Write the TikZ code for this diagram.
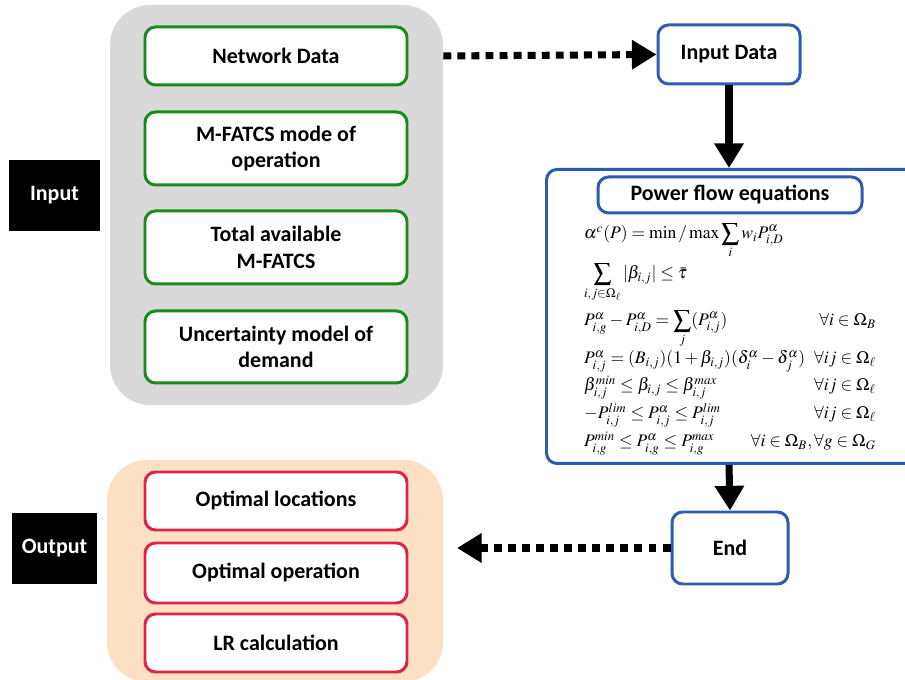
\documentclass[tikz,border=0pt]{standalone}
\usepackage{mathptmx}
\usepackage[no-math]{fontspec}
\setmainfont{Carlito}
\usepackage{amsmath}
\usetikzlibrary{arrows.meta}
\definecolor{boxgreen}{RGB}{24,140,24}
\definecolor{boxblue}{RGB}{44,92,178}
\definecolor{boxred}{RGB}{224,34,74}
\definecolor{boxgray}{RGB}{217,217,217}
\definecolor{boxpeach}{RGB}{252,224,196}
\begin{document}
\begin{tikzpicture}[>={Triangle[length=14pt,width=16pt]},
	txt/.style={font=\bfseries\fontsize{12.5}{15}\selectfont, align=center},
	grnbox/.style={txt, draw=boxgreen, line width=1.7pt, rounded corners=6pt, fill=white, minimum width=5.24cm},
	redbox/.style={txt, draw=boxred, line width=1.7pt, rounded corners=6pt, fill=white, minimum width=5.24cm},
	bluebox/.style={txt, draw=boxblue, line width=1.7pt, rounded corners=6pt, fill=white},
	tagbox/.style={txt, fill=black, text=white},
	flow/.style={->, line width=4pt},
	dotflow/.style={->, line width=4pt, dash pattern=on 4.5pt off 3.5pt},
	eq/.style={anchor=base west, font=\normalsize, inner sep=1pt},
	cond/.style={anchor=base east, font=\normalsize, inner sep=1pt}]
	\useasboundingbox (0,0) rectangle (18.1,13.6);
	\clip (0,0) rectangle (18.1,13.6);
	\node[fill=boxgray, rounded corners=0.8cm, minimum width=6.66cm, minimum height=8cm] (grey) at (5.53,9.5) {};
	\node[fill=boxpeach, rounded corners=0.8cm, minimum width=6.72cm, minimum height=4.44cm] (peach) at (5.5,2.18) {};
	\node[tagbox, minimum width=1.82cm, minimum height=1.42cm] (input) at (1.09,9.69) {Input};
	\node[tagbox, minimum width=1.7cm, minimum height=1.42cm] (output) at (1.09,2.63) {Output};
	\node[grnbox, minimum height=1.16cm] (ndata) at (5.52,12.48) {Network Data};
	\node[grnbox, minimum height=1.46cm] (mode) at (5.52,10.63) {M-FATCS mode of\\operation};
	\node[grnbox, minimum height=1.46cm] (total) at (5.52,8.65) {Total available\\M-FATCS};
	\node[grnbox, minimum height=1.44cm] (uncert) at (5.52,6.66) {Uncertainty model of\\demand};
	\node[redbox, minimum height=1.16cm] (locs) at (5.52,3.58) {Optimal locations};
	\node[redbox, minimum height=1.2cm] (oper) at (5.52,2.14) {Optimal operation};
	\node[redbox, minimum height=1.16cm] (lr) at (5.52,0.74) {LR calculation};
	\node[bluebox, minimum width=2.84cm, minimum height=1.18cm] (indata) at (14.58,12.51) {Input Data};
	\node[bluebox, minimum width=8cm, minimum height=5.88cm, anchor=north west] (pfbox) at (10.9,10.24) {};
	\node[bluebox, minimum width=5.28cm, minimum height=0.72cm] (pftitle) at (14.6,9.7) {Power flow equations};
	\node[bluebox, minimum width=2.32cm, minimum height=1.44cm] (endn) at (14.6,2.64) {End};
	\node[eq] (eq1) at (11.64,8.82) {$\alpha^c(P) = \mathrm{min}\,/\,\mathrm{max} \displaystyle\sum_i w_i P^{\alpha}_{i,D}$};
	\node[eq] (eq2) at (11.64,8.02) {$\displaystyle\sum_{i,j\in\Omega_\ell} |\beta_{i,j}| \le \bar{\tau}$};
	\node[eq] (eq3) at (11.64,7.08) {$P^{\alpha}_{i,g} - P^{\alpha}_{i,D} = \displaystyle\sum_j (P^{\alpha}_{i,j})$};
	\node[eq] (eq4) at (11.64,6.32) {$P^{\alpha}_{i,j} = (B_{i,j})(1+\beta_{i,j})(\delta^{\alpha}_i - \delta^{\alpha}_j)$};
	\node[eq] (eq5) at (11.64,5.78) {$\beta^{min}_{i,j} \le \beta_{i,j} \le \beta^{max}_{i,j}$};
	\node[eq] (eq6) at (11.64,5.22) {$-P^{lim}_{i,j} \le P^{\alpha}_{i,j} \le P^{lim}_{i,j}$};
	\node[eq] (eq7) at (11.64,4.66) {$P^{min}_{i,g} \le P^{\alpha}_{i,g} \le P^{max}_{i,g}$};
	\node[cond] (c3) at (17.56,7.08) {$\forall i \in \Omega_B$};
	\node[cond] (c4) at (17.56,6.32) {$\forall ij \in \Omega_\ell$};
	\node[cond] (c5) at (17.56,5.78) {$\forall ij \in \Omega_\ell$};
	\node[cond] (c6) at (17.56,5.22) {$\forall ij \in \Omega_\ell$};
	\node[cond] (c7) at (17.56,4.66) {$\forall i \in \Omega_B, \forall g \in \Omega_G$};
	\coordinate (outtip) at (9.14,2.64);
	\draw[dotflow] (ndata -| grey.east) -- (indata.west);
	\draw[flow] (indata.south) -- (indata.south |- pfbox.north);
	\draw[flow] (indata.south |- pfbox.south) -- (endn.north);
	\draw[dotflow] (endn.west) -- (outtip);
\end{tikzpicture}
\end{document}
